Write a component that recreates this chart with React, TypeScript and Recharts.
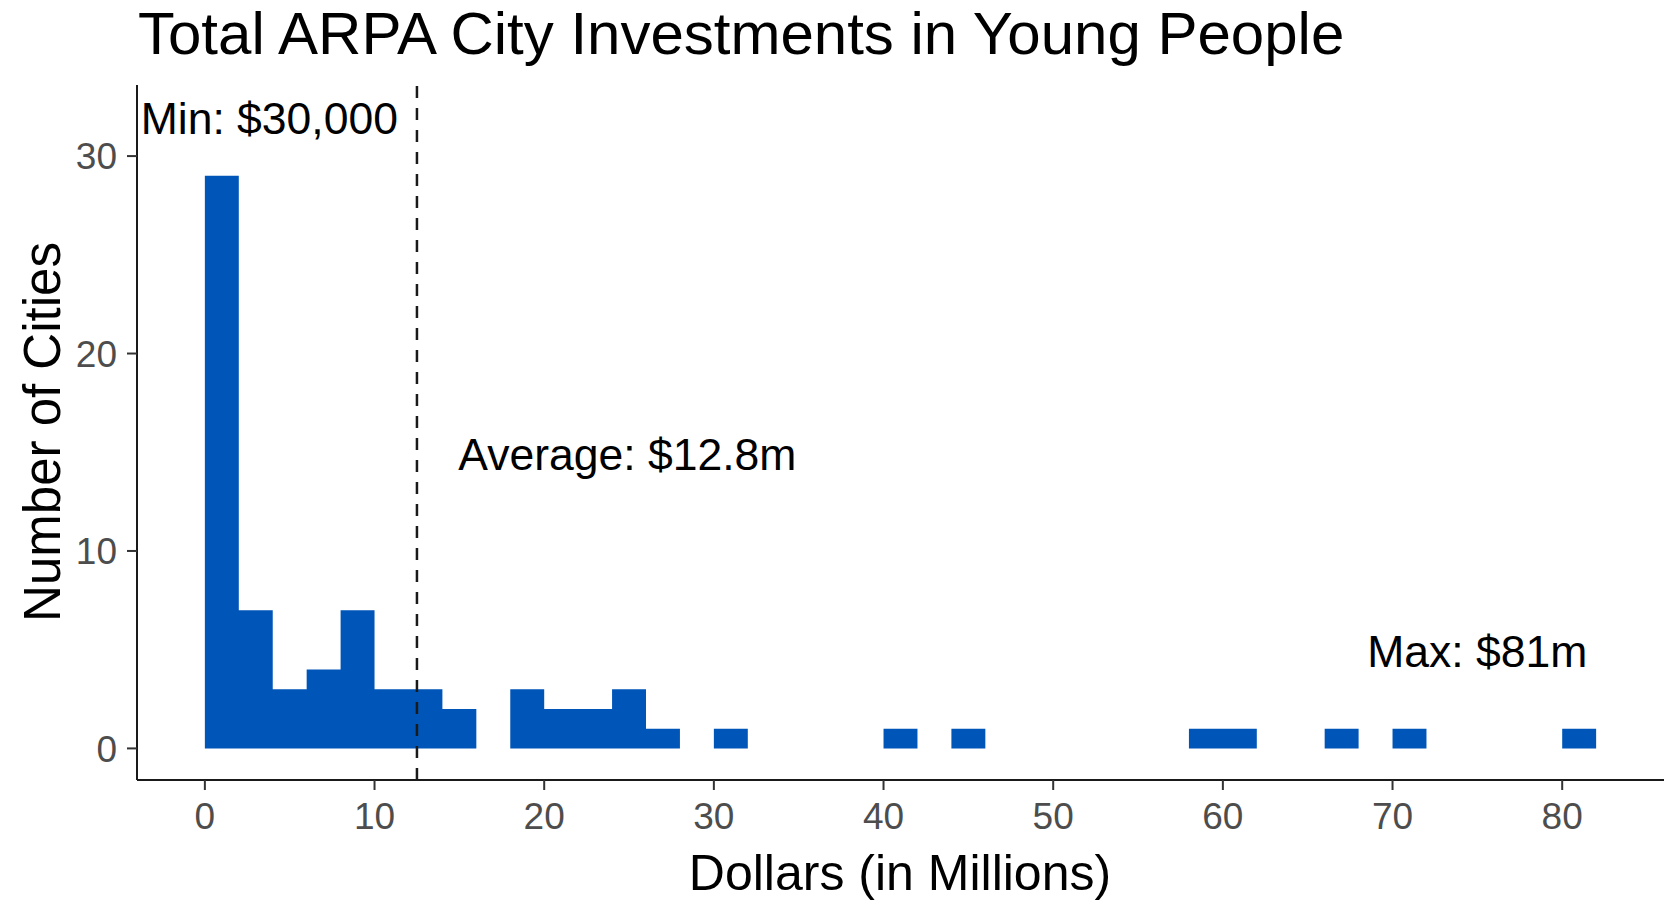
import React from 'react';
import { ComposedChart, Area, Scatter, XAxis, YAxis, ReferenceLine } from 'recharts';

// histogram bins, width $2m each; last edge closes the final bin
const binStarts = [
  0, 2, 4, 6, 8, 10, 12, 14, 16, 18, 20, 22, 24, 26, 28, 30, 32, 34, 36, 38, 40,
  42, 44, 46, 48, 50, 52, 54, 56, 58, 60, 62, 64, 66, 68, 70, 72, 74, 76, 78, 80, 82,
];
const cityCounts = [
  29, 7, 3, 4, 7, 3, 3, 2, 0, 3, 2, 2, 3, 1, 0, 1, 0, 0, 0, 0, 1,
  0, 1, 0, 0, 0, 0, 0, 0, 1, 1, 0, 0, 1, 0, 1, 0, 0, 0, 0, 1, 0,
];

const noteTexts = ['Min: $30,000', 'Average: $12.8m', 'Max: $81m'];
const noteX = [3.8, 24.9, 75];
const noteY = [32, 15, 5];

const averageLine = 12.5;

const xTicks = [0, 10, 20, 30, 40, 50, 60, 70, 80];
const yTicks = [0, 10, 20, 30];

const FONT = '"Liberation Sans", Arial, sans-serif';
const BLUE = '#0055b8';

const histData = binStarts.map((x, i) => ({ x, count: cityCounts[i] }));
const noteData = noteTexts.map((label, i) => ({ x: noteX[i], y: noteY[i], label }));

function NoteText(props: any) {
  const { cx, cy, payload } = props;
  return (
    <text x={cx} y={cy} dy="0.4em" textAnchor="middle" fontSize={44.5} fontFamily={FONT} fill="#000">
      {payload.label}
    </text>
  );
}

export default function App() {
  const tickStyle = { fontSize: 37, fill: '#4d4d4d', fontFamily: FONT };
  return (
    <div style={{ position: 'absolute', left: 0, top: 0, width: 1664, height: 900, background: '#fff' }}>
      <ComposedChart
        width={1664}
        height={900}
        data={histData}
        margin={{ top: 85, right: 0, bottom: 0, left: 0 }}
      >
        <XAxis
          dataKey="x"
          type="number"
          domain={[-4.0, 86.0]}
          allowDataOverflow
          ticks={xTicks}
          height={120}
          tickSize={10}
          tickMargin={13}
          tick={tickStyle}
          axisLine={{ stroke: '#1a1a1a', strokeWidth: 2 }}
          tickLine={{ stroke: '#333', strokeWidth: 2 }}
        />
        <YAxis
          type="number"
          domain={[-1.6, 33.6]}
          allowDataOverflow
          ticks={yTicks}
          width={137}
          tickSize={10}
          tickMargin={10}
          tick={tickStyle}
          axisLine={{ stroke: '#1a1a1a', strokeWidth: 2 }}
          tickLine={{ stroke: '#333', strokeWidth: 2 }}
        />
        <Area
          type="stepAfter"
          dataKey="count"
          baseValue={0}
          stroke="none"
          fill={BLUE}
          fillOpacity={1}
          dot={false}
          activeDot={false}
          isAnimationActive={false}
        />
        <ReferenceLine x={averageLine} stroke="#1a1a1a" strokeWidth={2.5} strokeDasharray="12 10" />
        <Scatter data={noteData} dataKey="y" shape={NoteText} isAnimationActive={false} />
      </ComposedChart>
      <svg
        width={1664}
        height={900}
        style={{ position: 'absolute', left: 0, top: 0, pointerEvents: 'none' }}
      >
        <text x={138} y={54} fontSize={60} fontFamily={FONT} fill="#000">
          Total ARPA City Investments in Young People
        </text>
        <text x={900} y={890} fontSize={50} fontFamily={FONT} fill="#000" textAnchor="middle">
          Dollars (in Millions)
        </text>
        <text
          x={60}
          y={432}
          fontSize={51}
          fontFamily={FONT}
          fill="#000"
          textAnchor="middle"
          transform="rotate(-90, 60, 432)"
        >
          Number of Cities
        </text>
      </svg>
    </div>
  );
}
